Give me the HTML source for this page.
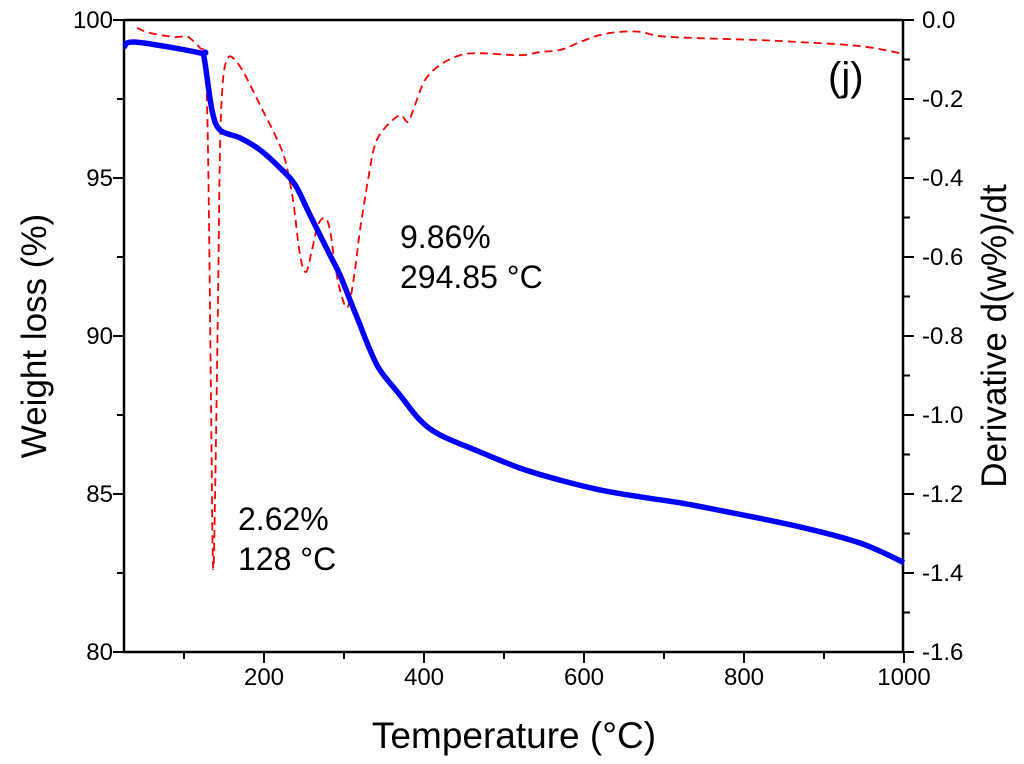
<!DOCTYPE html>
<html><head><meta charset="utf-8"><style>
html,body{margin:0;padding:0;background:#fff;}
svg{display:block;font-family:"Liberation Sans",Arial,sans-serif;}
</style></head><body>
<svg id="chart" width="1024" height="764"></svg>
<script>
const weightTemps=[25,40,120,125,135,145,170,195,220,239,257.5,282.5,295,307.5,320,332.5,345,370,395,420,470,520,570,620,670,720,770,870,945,1000];
const weightValues=[99.15,99.30,98.96,98.83,97.15,96.52,96.27,95.89,95.32,94.78,93.83,92.56,91.93,91.14,90.35,89.56,88.92,88.13,87.34,86.87,86.33,85.82,85.44,85.13,84.91,84.72,84.48,83.96,83.45,82.83];
const derivTemps=[41.25,57.5,88.75,101.25,107.5,120,126.25,130,133.75,136.25,138.75,142.5,145,148.75,155,163.75,176.25,195,213.75,226.25,236.25,245,252.5,260,267.5,276.25,282.5,288.75,295,302.5,307.5,313.75,320,330,338.75,351.25,370,380,388.75,401.25,420,445,470,520,545,570,595,620,645,670,695,745,820,870,945,1000];
const derivValues=[-0.020,-0.033,-0.043,-0.041,-0.046,-0.071,-0.101,-0.329,-0.962,-1.380,-1.215,-0.709,-0.329,-0.152,-0.096,-0.101,-0.139,-0.215,-0.291,-0.354,-0.456,-0.595,-0.638,-0.582,-0.519,-0.501,-0.532,-0.620,-0.684,-0.727,-0.709,-0.633,-0.532,-0.405,-0.316,-0.273,-0.241,-0.258,-0.215,-0.152,-0.114,-0.089,-0.084,-0.089,-0.081,-0.076,-0.056,-0.038,-0.030,-0.030,-0.041,-0.046,-0.051,-0.056,-0.066,-0.086];
const xTicks=[200,400,600,800,1000];
const xMinor=[100,300,500,700,900];
const yLeftTicks=[80,85,90,95,100];
const yLeftMinor=[82.5,87.5,92.5,97.5];
const yRightTicks=[0.0,-0.2,-0.4,-0.6,-0.8,-1.0,-1.2,-1.4,-1.6];
const yRightMinor=[-0.1,-0.3,-0.5,-0.7,-0.9,-1.1,-1.3,-1.5];

const L=124,R=903,T=20,B=652;
const X=t=>264+(t-200)*0.8;
const YL=w=>T+(100-w)*(B-T)/20;
const YR=d=>T+(-d)*(B-T)/1.6;
const svg=document.getElementById('chart');
const NS='http://www.w3.org/2000/svg';
function mk(tag,attrs,parent){const e=document.createElementNS(NS,tag);for(const k in attrs)e.setAttribute(k,attrs[k]);(parent||svg).appendChild(e);return e;}
function txt(s,attrs){const e=mk('text',attrs);e.textContent=s;return e;}
function smooth(pts){let d='M'+pts[0][0].toFixed(1)+','+pts[0][1].toFixed(1);
  for(let i=0;i<pts.length-1;i++){const p0=pts[i-1]||pts[i],p1=pts[i],p2=pts[i+1],p3=pts[i+2]||p2;
    const c1=[p1[0]+(p2[0]-p0[0])/6,p1[1]+(p2[1]-p0[1])/6],c2=[p2[0]-(p3[0]-p1[0])/6,p2[1]-(p3[1]-p1[1])/6];
    d+=`C${c1[0].toFixed(1)},${c1[1].toFixed(1)} ${c2[0].toFixed(1)},${c2[1].toFixed(1)} ${p2[0].toFixed(1)},${p2[1].toFixed(1)}`;}
  return d;}

const frame=mk('path',{d:`M${L},${T}H${R}M${L},${T-0.5}V${B}H${R}M${R},${T-0.5}V${B}`,stroke:'#000','stroke-width':2.5,fill:'none'});



xTicks.forEach(t=>{
  const l=mk('line',{x1:X(t),x2:X(t),y1:B,y2:B+11,stroke:'#000','stroke-width':2});
  
  
  const e=txt(String(t),{x:X(t),y:B+33,'font-size':24,'text-anchor':'middle'});
  
  
});
xMinor.forEach(t=>{
  const l=mk('line',{x1:X(t),x2:X(t),y1:B,y2:B+7,stroke:'#000','stroke-width':2});
  
  
});
yLeftTicks.forEach(v=>{
  const l=mk('line',{x1:L-11,x2:L,y1:YL(v),y2:YL(v),stroke:'#000','stroke-width':2});
  
  
  const e=txt(String(v),{x:L-11,y:YL(v)+8,'font-size':24,'text-anchor':'end'});
  
  
});
yLeftMinor.forEach(v=>{
  const l=mk('line',{x1:L-7,x2:L,y1:YL(v),y2:YL(v),stroke:'#000','stroke-width':2});
  
  
});
yRightTicks.forEach(v=>{
  const l=mk('line',{x1:R,x2:R+11,y1:YR(v),y2:YR(v),stroke:'#000','stroke-width':2});
  
  
  const e=txt(v.toFixed(1),{x:R+19,y:YR(v)+8,'font-size':24,'text-anchor':'start'});
  
  
});
yRightMinor.forEach(v=>{
  const l=mk('line',{x1:R,x2:R+7,y1:YR(v),y2:YR(v),stroke:'#000','stroke-width':2});
  
  
});

const dp=mk('path',{d:smooth(derivTemps.map((t,i)=>[X(t),YR(derivValues[i])])),stroke:'#ff0000','stroke-width':1.8,fill:'none','stroke-dasharray':'8,5'});


const wp=mk('path',{d:smooth(weightTemps.map((t,i)=>[X(t),YL(weightValues[i])])),stroke:'#0000ff','stroke-width':5.5,fill:'none','stroke-linejoin':'round'});



let e;
e=txt('Temperature (°C)',{x:514,y:748,'font-size':37,'text-anchor':'middle'});


e=txt('Weight loss (%)',{x:0,y:0,'font-size':35,'text-anchor':'middle',transform:'translate(46,336) rotate(-90)'});


e=txt('Derivative d(w%)/dt',{x:0,y:0,'font-size':35,'text-anchor':'middle',transform:'translate(1006,336) rotate(-90)'});


e=txt('(j)',{x:828,y:90,'font-size':40});


e=txt('9.86%',{x:400,y:248,'font-size':32});


e=txt('294.85 °C',{x:400,y:288,'font-size':32});


e=txt('2.62%',{x:238,y:530,'font-size':32});


e=txt('128 °C',{x:238,y:570,'font-size':32});


</script>
</body></html>
